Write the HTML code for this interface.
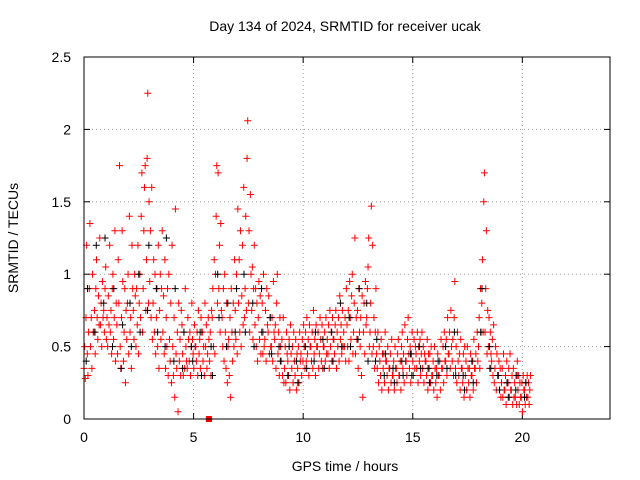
<!DOCTYPE html>
<html><head><meta charset="utf-8"><style>
body{margin:0;background:#fff;}
svg{display:block;font-family:"Liberation Sans",sans-serif;}
</style></head><body>
<svg id="chart" width="640" height="480" viewBox="0 0 640 480">
<rect x="0" y="0" width="640" height="480" fill="#fff"/>
<text x="345" y="31" font-size="14" text-anchor="middle">Day 134 of 2024, SRMTID for receiver ucak</text>
<text x="345" y="471" font-size="14" text-anchor="middle">GPS time / hours</text>
<text x="18" y="238" font-size="14" text-anchor="middle" transform="rotate(-90 18 238)">SRMTID / TECUs</text>
<g id="grid"></g>
<g id="marks"></g>
<rect x="84" y="57" width="526" height="362" fill="none" stroke="#000" stroke-width="1"/>
</svg>
<script>
const xTicks=[0,5,10,15,20];
const yTicks=[0,0.5,1,1.5,2,2.5];
const yTickLabels=["0","0.5","1","1.5","2","2.5"];
const redRows=[
[0.00,.35,.5,.28,.7,1.2],[0.15,.45,.3,.6,.9,1.35],[0.30,.5,.7,.35,1.0,.6],[0.45,.6,.75,.45,.9,1.1],
[0.60,.7,.55,.85,.65,1.25],[0.75,.65,.8,.5,.95,.7],[0.90,.75,.6,.9,1.05,.55],[1.05,.7,.5,.85,.65,1.2],
[1.20,.6,.75,.45,.9,1.0],[1.35,.55,.7,1.3,.4,.8],[1.50,.65,.45,1.1,.8,1.75],[1.65,.5,.35,.7,1.3,.95],
[1.80,.4,.6,.9,.25,.75],[1.95,.55,.8,1.0,.45,1.4],[2.10,.6,.7,.35,1.2,.9],[2.25,.75,.55,1.0,.85,.5],
[2.40,.9,.65,1.2,.45,.8],[2.55,1.0,.7,1.4,1.7,.6],[2.70,.9,1.3,1.6,1.75,.75],[2.85,1.1,1.8,2.25,.8,1.5],
[3.00,.95,1.3,.7,1.6,.55],[3.15,.8,1.1,.6,1.0,.45],[3.30,.7,.9,.5,1.2,.35],[3.45,.75,1.0,.55,.9,1.3],
[3.60,.6,.85,.45,1.1,.35],[3.75,.7,.5,.9,.3,1.0],[3.90,.55,.4,.8,.25,1.2],[4.05,.5,.3,.7,.15,1.45],
[4.20,.45,.35,.6,.05,.8],[4.35,.4,.55,.3,.75,.65],[4.50,.45,.3,.6,.35,.9],[4.65,.5,.4,.35,.7,.55],
[4.80,.4,.6,.3,.5,.8],[4.95,.55,.45,.35,.65,.5],[5.10,.5,.4,.6,.3,.75],[5.25,.45,.55,.35,.7,.6],
[5.40,.6,.4,.5,.3,.8],[5.55,.5,.65,.35,.45,.7],[5.70,.55,.4,.6,.3,.75],[5.85,.7,.9,.5,1.1,.45],
[6.00,1.0,1.4,1.75,.8,1.7],[6.15,.9,1.2,.6,1.35,.75],[6.30,.7,.5,.9,.4,1.0],[6.45,.6,.35,.8,.25,.5],
[6.60,.55,.3,.7,.15,.9],[6.75,.6,.4,.8,.5,1.1],[6.90,.75,.55,1.0,.45,1.45],[7.05,.8,1.1,.6,1.3,.5],
[7.20,.85,1.2,.65,1.6,.7],[7.35,.9,1.4,.75,1.8,2.06],[7.50,.8,1.3,.6,1.55,1.0],[7.65,.75,1.05,.55,.9,1.2],
[7.80,.65,.9,.5,.8,.4],[7.95,.7,.95,.55,.85,.45],[8.10,.6,.8,.45,1.0,.5],[8.25,.55,.75,.4,.9,.65],
[8.40,.6,.85,.45,.7,.5],[8.55,.5,.7,.4,.95,.6],[8.70,.55,.65,.35,.8,1.0],[8.85,.45,.6,.3,.7,.5],
[9.00,.4,.55,.3,.7,.25],[9.15,.35,.5,.25,.6,.45],[9.30,.4,.3,.55,.2,.65],[9.45,.45,.35,.5,.25,.6],
[9.60,.4,.3,.55,.2,.45],[9.75,.35,.5,.25,.6,.4],[9.90,.45,.3,.55,.4,.65],[10.05,.5,.35,.6,.4,.7],
[10.20,.45,.55,.3,.65,.5],[10.35,.5,.4,.6,.35,.75],[10.50,.45,.55,.3,.65,.5],[10.65,.5,.6,.35,.45,.7],
[10.80,.55,.4,.65,.35,.5],[10.95,.5,.6,.4,.7,.45],[11.10,.55,.45,.65,.35,.75],[11.25,.5,.6,.4,.7,.55],
[11.40,.55,.45,.65,.75,.35],[11.55,.6,.5,.7,.4,.85],[11.70,.55,.65,.45,.75,.5],[11.85,.6,.5,.7,.4,.9],
[12.00,.65,.5,.75,.4,.95],[12.15,.7,.55,.85,1.0,.45],[12.30,.6,.8,1.25,.45,.7],[12.45,.55,.75,.35,.9,.6],
[12.60,.5,.7,.3,.85,.15],[12.75,.6,.8,.45,.95,.65],[12.90,.7,.9,1.05,1.25,.5],[13.05,.6,.8,1.47,.45,1.2],
[13.20,.5,.7,.35,.6,.9],[13.35,.45,.35,.6,.25,.5],[13.50,.4,.3,.55,.2,.45],[13.65,.35,.45,.25,.6,.4],
[13.80,.4,.3,.5,.2,.35],[13.95,.35,.45,.25,.55,.3],[14.10,.3,.4,.2,.5,.35],[14.25,.35,.25,.45,.55,.3],
[14.40,.3,.4,.2,.5,.6],[14.55,.35,.45,.25,.65,.4],[14.70,.4,.3,.55,.7,.45],[14.85,.35,.5,.25,.45,.6],
[15.00,.4,.3,.55,.35,.5],[15.15,.45,.35,.6,.25,.5],[15.30,.4,.55,.3,.45,.6],[15.45,.35,.5,.25,.45,.4],
[15.60,.4,.3,.55,.2,.45],[15.75,.35,.45,.25,.5,.3],[15.90,.3,.4,.2,.5,.35],[16.05,.25,.35,.15,.45,.3],
[16.20,.3,.4,.2,.55,.35],[16.35,.35,.5,.25,.6,.4],[16.50,.4,.55,.3,.7,.45],[16.65,.45,.6,.35,.75,.5],
[16.80,.4,.55,.3,.7,.95],[16.95,.35,.5,.25,.6,.4],[17.10,.3,.45,.2,.55,.35],[17.25,.35,.25,.45,.15,.5],
[17.40,.3,.4,.2,.5,.35],[17.55,.25,.35,.15,.45,.3],[17.70,.3,.4,.2,.55,.35],[17.85,.35,.45,.25,.6,.4],
[18.00,.5,.7,.35,.9,.6],[18.15,.8,1.1,.6,1.5,1.7],[18.30,.6,.9,1.3,.45,.75],[18.45,.5,.7,.35,.6,.45],
[18.60,.4,.55,.3,.65,.25],[18.75,.35,.5,.2,.45,.3],[18.90,.3,.4,.2,.35,.15],[19.05,.25,.35,.15,.45,.2],
[19.20,.2,.3,.1,.4,.25],[19.35,.25,.35,.15,.45,.2],[19.50,.2,.3,.1,.35,.15],[19.65,.25,.15,.3,.1,.4],
[19.80,.2,.3,.1,.25,.15],[19.95,.15,.25,.05,.3,.2],[20.10,.2,.1,.25,.15,.3],[20.25,.15,.25,.1,.2,.3]
];
const blackRows=[
[0.1,.4,.9],[0.5,.6,1.2],[0.9,.8,1.25],[1.3,.5,.9],[1.7,.35,.65],[2.1,.8,.5],[2.5,1.0,.6],[2.9,.75,1.2],
[3.3,.9,.6],[3.7,.5,1.25],[4.1,.4,.9],[4.5,.35,.6],[4.9,.5,.4],[5.3,.6,.3],[5.8,.5,.3],[6.1,1.0,.7],
[6.5,.5,.8],[6.9,.6,.9],[7.3,1.0,.6],[7.7,.8,.5],[8.1,.9,.6],[8.5,.7,.45],[8.9,.5,.4],[9.3,.3,.5],
[9.7,.4,.25],[10.1,.5,.35],[10.5,.4,.6],[10.9,.55,.35],[11.3,.6,.4],[11.7,.8,.5],[12.1,.7,.5],[12.5,.55,.9],
[12.9,.8,.4],[13.3,.4,.55],[13.7,.3,.45],[14.1,.35,.25],[14.5,.4,.3],[14.9,.45,.3],[15.3,.5,.35],[15.7,.35,.25],
[16.1,.3,.4],[16.5,.5,.35],[16.9,.6,.3],[17.3,.3,.2],[17.7,.4,.25],[18.1,.6,.9],[18.5,.5,.35],[18.9,.3,.2],
[19.3,.25,.15],[19.7,.2,.3],[20.1,.15,.25]
];
const squarePoint=[5.7,0];
// samples within each row interval are spaced by this many hours
const sampleStep=0.03;

const X0=84,X1=610,Y0=419,Y1=57,XMAX=24,YMAX=2.5;
function sx(t){return X0+(t/XMAX)*(X1-X0);}
function sy(v){return Y0-(v/YMAX)*(Y0-Y1);}
const NS="http://www.w3.org/2000/svg";
const grid=document.getElementById('grid');
const marks=document.getElementById('marks');
function mk(tag,attrs,parent){const e=document.createElementNS(NS,tag);for(const k in attrs)e.setAttribute(k,attrs[k]);parent.appendChild(e);return e;}

xTicks.forEach(t=>{
  const x=sx(t);
  if(t>0){const g=mk('line',{x1:x,y1:Y1,x2:x,y2:Y0,stroke:'#a0a0a0','stroke-dasharray':'1,3','stroke-width':1},grid);
  
  }
  const tk=mk('line',{x1:x,y1:Y0,x2:x,y2:Y0-6,stroke:'#000'},grid);
  
  
  const tk2=mk('line',{x1:x,y1:Y1,x2:x,y2:Y1+6,stroke:'#000'},grid);
  
  
  const lb=mk('text',{x:x,y:Y0+23,'font-size':14,'text-anchor':'middle'},grid);
  lb.textContent=String(t);
  
  
});
yTicks.forEach((v,i)=>{
  const y=sy(v);
  if(v>0&&v<YMAX){const g=mk('line',{x1:X0,y1:y,x2:X1,y2:y,stroke:'#a0a0a0','stroke-dasharray':'1,3','stroke-width':1},grid);
  
  }
  const tk=mk('line',{x1:X0,y1:y,x2:X0+6,y2:y,stroke:'#000'},grid);
  
  
  const tk2=mk('line',{x1:X1,y1:y,x2:X1-6,y2:y,stroke:'#000'},grid);
  
  
  const lb=mk('text',{x:X0-13,y:y+5,'font-size':14,'text-anchor':'end'},grid);
  lb.textContent=yTickLabels[i];
  
  
});
function plus(t,v,color,name){
  const x=sx(t),y=sy(v);
  const p=mk('path',{d:`M${x-3.5},${y}H${x+3.5}M${x},${y-3.5}V${y+3.5}`,stroke:color,'stroke-width':1,fill:'none'},marks);
  
  
}
redRows.forEach(r=>{for(let i=1;i<r.length;i++)plus(r[0]+(i-1)*sampleStep,r[i],'#ff0000','red-point');});
blackRows.forEach(r=>{for(let i=1;i<r.length;i++)plus(r[0]+(i-1)*sampleStep*2,r[i],'#000000','black-point');});
const sq=mk('rect',{x:sx(squarePoint[0])-3,y:sy(squarePoint[1])-3,width:6,height:6,fill:'#ff0000'},marks);


</script>
</body></html>
